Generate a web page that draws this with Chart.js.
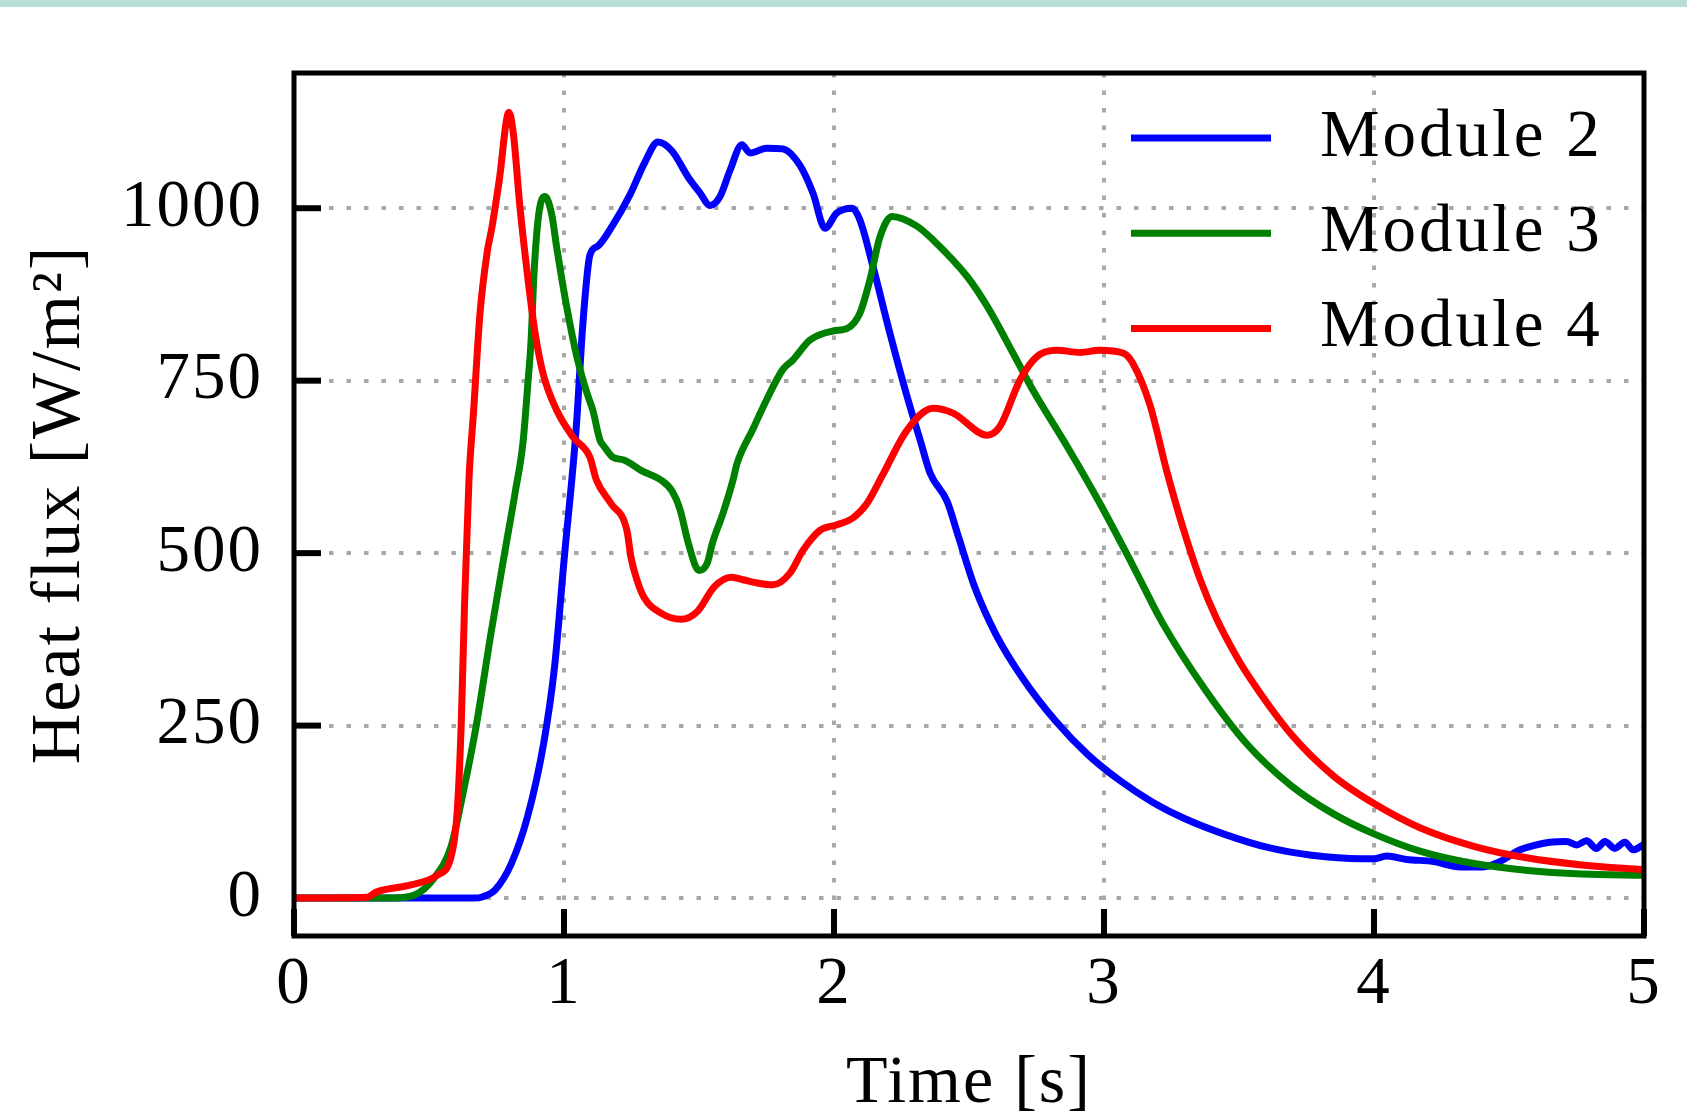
<!DOCTYPE html>
<html>
<head>
<meta charset="utf-8">
<title>Heat flux</title>
<script src="https://cdn.jsdelivr.net/npm/chart.js@4.4.0/dist/chart.umd.min.js"></script>
<style>
  html, body { margin: 0; padding: 0; background: #fff; }
  #wrap { width: 1687px; height: 1115px; position: relative; }
</style>
</head>
<body>
<div id="wrap"><canvas id="heatFlux" width="1687" height="1115"></canvas></div>
<script>
// values: time [s], heat flux [W/m2]
const seriesLabels = ['Module 2', 'Module 3', 'Module 4'];
const seriesColors = ['#0000ff', '#008000', '#ff0000'];

const t2 = [0, 0.55, 0.667, 0.70, 0.745, 0.805, 0.865, 0.925, 0.965, 1.0, 1.045, 1.07, 1.096, 1.125, 1.18,
  1.245, 1.30, 1.348, 1.40, 1.46, 1.504, 1.541, 1.578, 1.615, 1.659, 1.689, 1.75, 1.81, 1.874, 1.922,
  1.967, 2.01, 2.067, 2.096, 2.144, 2.207, 2.27, 2.319, 2.356, 2.419, 2.46, 2.52, 2.60, 2.70, 2.82,
  2.94, 3.06, 3.18, 3.30, 3.45, 3.61, 3.77, 3.95, 4.0, 4.047, 4.121, 4.22, 4.319, 4.405, 4.467,
  4.541, 4.59, 4.652, 4.713, 4.75, 4.787, 4.824, 4.855, 4.892, 4.929, 4.96, 5.0];
const q2 = [0, 0, 0, 2, 12, 50, 118, 225, 335, 489, 680, 833, 932, 945, 975,
  1020, 1067, 1096, 1083, 1045, 1022, 1004, 1017, 1055, 1092, 1080, 1087, 1086, 1062, 1022,
  971, 993, 1000, 983, 916, 819, 728, 664, 616, 575, 525, 452, 382, 318, 257,
  208, 170, 139, 115, 92, 73, 62, 57, 57, 61, 56, 53, 45, 45, 53,
  70, 76, 81, 82, 77, 83, 72, 82, 72, 81, 70, 78];

const t3 = [0, 0.37, 0.444, 0.519, 0.581, 0.625, 0.675, 0.73, 0.78, 0.82, 0.848, 0.865, 0.878, 0.889, 0.907,
  0.93, 0.955, 0.973, 1.01, 1.048, 1.085, 1.107, 1.133, 1.148, 1.181, 1.222, 1.285, 1.359, 1.40, 1.43,
  1.46, 1.50, 1.53, 1.55, 1.589, 1.626, 1.641, 1.70, 1.75, 1.81, 1.848, 1.911, 1.996, 2.05, 2.096,
  2.133, 2.17, 2.215, 2.307, 2.367, 2.493, 2.567, 2.663, 2.737, 2.863, 2.985, 3.107, 3.215, 3.375, 3.53,
  3.69, 3.85, 4.0, 4.17, 4.37, 4.57, 4.77, 5.0];
const q3 = [0, 0, 4, 29, 74, 150, 250, 385, 500, 590, 660, 740, 808, 906, 993,
  1017, 990, 943, 857, 784, 732, 707, 664, 655, 639, 635, 620, 606, 590, 563,
  515, 475, 485, 515, 558, 606, 630, 680, 722, 766, 780, 809, 822, 826, 848,
  896, 958, 988, 974, 954, 901, 858, 790, 736, 655, 572, 482, 400, 302, 223,
  164, 122, 93, 68, 50, 40, 35, 33];

const t4 = [0, 0.27, 0.307, 0.433, 0.53, 0.581, 0.604, 0.619, 0.632, 0.648, 0.665, 0.689, 0.715, 0.733, 0.76,
  0.796, 0.812, 0.837, 0.867, 0.893, 0.922, 0.973, 1.034, 1.096, 1.12, 1.174, 1.233, 1.248, 1.267, 1.296,
  1.359, 1.433, 1.493, 1.556, 1.619, 1.667, 1.70, 1.774, 1.837, 1.885, 1.948, 2.011, 2.07, 2.122, 2.181,
  2.27, 2.367, 2.441, 2.567, 2.615, 2.689, 2.752, 2.826, 2.911, 2.985, 3.07, 3.107, 3.17, 3.233, 3.294,
  3.356, 3.417, 3.491, 3.53, 3.69, 3.85, 4.0, 4.17, 4.37, 4.57, 4.77, 5.0];
const q4 = [0, 1, 9, 19, 33, 59, 123, 248, 430, 606, 705, 848, 935, 972, 1040,
  1139, 1110, 1001, 896, 819, 761, 707, 668, 639, 606, 572, 533, 494, 465, 436,
  413, 404, 415, 451, 465, 461, 458, 454, 471, 504, 533, 541, 551, 572, 614,
  678, 710, 703, 671, 684, 751, 785, 794, 791, 794, 790, 775, 715, 618, 535,
  462, 405, 350, 325, 239, 177, 137, 102, 75, 58, 48, 41];

const xTickValues = [0, 1, 2, 3, 4, 5];
const yTickValues = [0, 250, 500, 750, 1000];

const FONT = '"Liberation Serif", "DejaVu Serif", serif';
const GRID = '#a8a8a8';

function points(ts, qs) {
  return ts.map((t, i) => ({ x: t, y: qs[i] }));
}

// slightly wider letter spacing, closer to the TeX font of the original
const spacingPlugin = {
  id: 'spacing',
  beforeDraw(chart) {
    chart.ctx.letterSpacing = '2px';
  }
};

const topStripPlugin = {
  id: 'topStrip',
  beforeDraw(chart) {
    const ctx = chart.ctx;
    ctx.save();
    ctx.fillStyle = '#b9ded8';
    ctx.fillRect(0, 0, chart.width, 7);
    ctx.restore();
  }
};

// inward tick marks under the curves, black box over them
const framePlugin = {
  id: 'frame',
  beforeDatasetsDraw(chart) {
    const { ctx, chartArea: a, scales } = chart;
    ctx.save();
    ctx.strokeStyle = '#000';
    ctx.lineWidth = 6;
    yTickValues.forEach(v => {
      const y = scales.y.getPixelForValue(v);
      ctx.beginPath(); ctx.moveTo(a.left, y); ctx.lineTo(a.left + 27, y); ctx.stroke();
    });
    xTickValues.forEach(v => {
      const x = scales.x.getPixelForValue(v);
      ctx.beginPath(); ctx.moveTo(x, a.bottom); ctx.lineTo(x, a.bottom - 27); ctx.stroke();
    });
    ctx.restore();
  },
  afterDatasetsDraw(chart) {
    const { ctx, chartArea: a } = chart;
    ctx.save();
    ctx.strokeStyle = '#000';
    ctx.lineWidth = 5;
    ctx.strokeRect(a.left, a.top, a.right - a.left, a.bottom - a.top);
    ctx.restore();
  }
};

const legendPlugin = {
  id: 'insideLegend',
  afterDraw(chart) {
    const { ctx, chartArea: a } = chart;
    ctx.save();
    ctx.font = '67px ' + FONT;
    ctx.letterSpacing = '3px';
    ctx.textBaseline = 'middle';
    ctx.textAlign = 'left';
    chart.data.datasets.forEach((ds, i) => {
      const y = a.top + 65 + i * 95.3;
      ctx.strokeStyle = ds.borderColor;
      ctx.lineWidth = 7;
      ctx.beginPath(); ctx.moveTo(1131, y); ctx.lineTo(1271, y); ctx.stroke();
      ctx.fillStyle = '#000';
      ctx.fillText(ds.label, 1320, y);
    });
    ctx.restore();
  }
};

const canvasEl = document.getElementById('heatFlux');
new Chart(canvasEl.getContext('2d'), {
  type: 'line',
  data: {
    datasets: [
      { label: seriesLabels[0], data: points(t2, q2), borderColor: seriesColors[0], borderWidth: 7, order: 3 },
      { label: seriesLabels[1], data: points(t3, q3), borderColor: seriesColors[1], borderWidth: 7, order: 2 },
      { label: seriesLabels[2], data: points(t4, q4), borderColor: seriesColors[2], borderWidth: 7, order: 1 }
    ]
  },
  options: {
    responsive: false,
    animation: false,
    layout: { padding: { top: 73, right: 43, left: 0, bottom: 0 } },
    plugins: { legend: { display: false }, tooltip: { enabled: false } },
    elements: {
      point: { radius: 0 },
      line: { cubicInterpolationMode: 'monotone', borderCapStyle: 'round', borderJoinStyle: 'round', fill: false }
    },
    scales: {
      x: {
        type: 'linear', min: 0, max: 5,
        afterFit: s => { s.height = 179; },
        afterBuildTicks: s => { s.ticks = xTickValues.map(v => ({ value: v })); },
        ticks: { padding: 16, color: '#000', autoSkip: false, maxRotation: 0,
          font: { family: FONT, size: 67, lineHeight: 1 } },
        grid: { color: GRID, lineWidth: 4, drawTicks: false },
        border: { display: false, dash: [4.5, 13] },
        title: { display: true, text: 'Time [s]', color: '#000', padding: 0,
          font: { family: FONT, size: 68, lineHeight: 0.92 } }
      },
      y: {
        type: 'linear', min: -55, max: 1196,
        afterFit: s => { s.width = 294; },
        afterBuildTicks: s => { s.ticks = yTickValues.map(v => ({ value: v })); },
        ticks: { padding: 31, color: '#000', callback: v => String(v),
          font: { family: FONT, size: 67, lineHeight: 1 } },
        grid: { color: GRID, lineWidth: 4, drawTicks: false },
        border: { display: false, dash: [4.5, 13] },
        title: { display: true, text: 'Heat flux [W/m²]', color: '#000', padding: { top: 25.5, bottom: 0 },
          font: { family: FONT, size: 70, lineHeight: 1 } }
      }
    }
  },
  plugins: [spacingPlugin, topStripPlugin, framePlugin, legendPlugin]
});
</script>
</body>
</html>
